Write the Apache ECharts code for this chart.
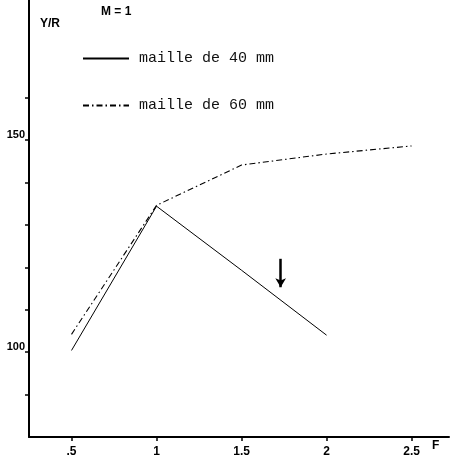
<!DOCTYPE html>
<html>
<head>
<meta charset="utf-8">
<script src="https://cdn.jsdelivr.net/npm/echarts@6/dist/echarts.min.js"></script>
<style>
html,body{margin:0;padding:0;background:#fff;}
#container{width:450px;height:462px;}
</style>
</head>
<body>
<div id="container"></div>
<script>
// data
var fValues = [0.5, 1, 1.5, 2];
var maille40 = [100.4, 134.4, 119.3, 104];
var fValues60 = [0.5, 1, 1.5, 2, 2.5];
var maille60 = [104.2, 134.6, 144.1, 146.7, 148.6];
var xTickValues = [0.5, 1, 1.5, 2, 2.5];
var xTickLabels = ['.5', '1', '1.5', '2', '2.5'];
var yTickValues = [90, 100, 110, 120, 130, 140, 150, 160];
var yLabelValues = [100, 150];
var arrowPoints = [[1.73, 122], [1.73, 115.3]];

function pairs(xs, ys){
	var out = [];
	for (var i = 0; i < xs.length; i++) {
		out.push([xs[i], ys[i]]);
	}
	return out;
}

var dom = document.getElementById("container");
var myChart = echarts.init(dom);

var boldFont = '"Liberation Sans", Arial, sans-serif';
var monoFont = '"Liberation Mono", "DejaVu Sans Mono", monospace';

var option = {
	animation: false,
	backgroundColor: '#fff',
	title: {
		text: 'M = 1',
		left: 96,
		top: 1,
		textStyle: {
			fontFamily: boldFont,
			fontWeight: 'bold',
			fontSize: 12,
			color: '#000'
		}
	},
	legend: {
		orient: 'vertical',
		left: 77,
		top: 46,
		itemWidth: 46,
		itemHeight: 14,
		itemGap: 32,
		data: ['maille de 40 mm', 'maille de 60 mm'],
		itemStyle: {opacity: 0},
		textStyle: {
			fontFamily: monoFont,
			fontSize: 15,
			color: '#111',
			padding: [0, 0, 0, 5]
		}
	},
	grid: {
		left: 29,
		right: 1,
		top: 0,
		bottom: 25
	},
	xAxis: {
		type: 'value',
		min: 0.25,
		max: 2.72,
		splitLine: {show: false},
		axisLine: {
			onZero: false,
			lineStyle: {color: '#000', width: 2}
		},
		axisTick: {
			show: true,
			length: 4,
			customValues: xTickValues,
			lineStyle: {color: '#000', width: 1.5}
		},
		axisLabel: {
			customValues: xTickValues,
			margin: 9,
			fontFamily: boldFont,
			fontWeight: 'bold',
			fontSize: 12,
			color: '#000',
			formatter: function (v) {
				var i = xTickValues.indexOf(v);
				return i >= 0 ? xTickLabels[i] : '';
			}
		}
	},
	yAxis: {
		type: 'value',
		min: 80,
		max: 183,
		splitLine: {show: false},
		axisLine: {
			onZero: false,
			lineStyle: {color: '#000', width: 2}
		},
		axisTick: {
			show: true,
			length: 4,
			customValues: yTickValues,
			lineStyle: {color: '#000', width: 1.5}
		},
		axisLabel: {
			customValues: yLabelValues,
			margin: 4,
			verticalAlign: 'bottom',
			fontFamily: boldFont,
			fontWeight: 'bold',
			fontSize: 11,
			color: '#000'
		}
	},
	graphic: [
		{
			type: 'text',
			left: 40,
			top: 18,
			style: {
				text: 'Y/R',
				font: 'bold 12px "Liberation Sans", Arial, sans-serif',
				fill: '#000'
			}
		},
		{
			type: 'text',
			left: 432,
			top: 440,
			style: {
				text: 'F',
				font: 'bold 12px "Liberation Sans", Arial, sans-serif',
				fill: '#000'
			}
		}
	],
	series: [
		{
			name: 'maille de 40 mm',
			type: 'line',
			symbol: 'none',
			data: pairs(fValues, maille40),
			lineStyle: {color: '#000', width: 1, type: 'solid'},
			itemStyle: {color: '#000'},
			markLine: {
				silent: true,
				symbol: ['none', 'arrow'],
				symbolSize: [8, 9],
				label: {show: false},
				lineStyle: {color: '#000', width: 2.5, type: 'solid'},
				data: [
					[{coord: arrowPoints[0]}, {coord: arrowPoints[1]}]
				]
			}
		},
		{
			name: 'maille de 60 mm',
			type: 'line',
			symbol: 'none',
			data: pairs(fValues60, maille60),
			lineStyle: {color: '#000', width: 1.1, type: [6, 3, 1.5, 3]},
			itemStyle: {color: '#000'}
		}
	]
};

myChart.setOption(option);
</script>
</body>
</html>
